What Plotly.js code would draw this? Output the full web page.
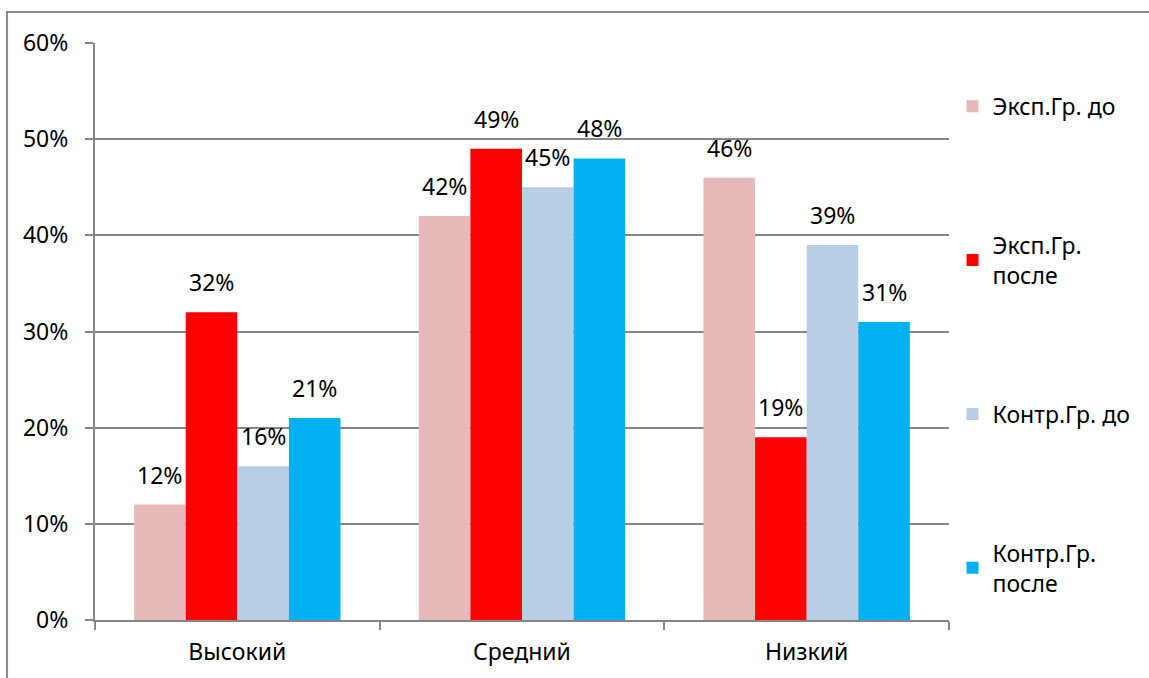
<!DOCTYPE html>
<html>
<head>
<meta charset="utf-8">
<script src="https://cdn.plot.ly/plotly-3.0.1.min.js"></script>
<style>html,body{margin:0;padding:0;background:#fff;}#chart{width:1149px;height:678px;}</style>
</head>
<body>
<div id="chart"></div>
<script>
const categories = ["Высокий", "Средний", "Низкий"];
const seriesNames = ["Эксп.Гр. до", "Эксп.Гр.<br>после", "Контр.Гр. до", "Контр.Гр.<br>после"];
const expBefore = [0.12, 0.42, 0.46];
const expAfter = [0.32, 0.49, 0.19];
const ctrlBefore = [0.16, 0.45, 0.39];
const ctrlAfter = [0.21, 0.48, 0.31];
const colors = ["#E6B9B8", "#FF0000", "#B9CDE5", "#00B0F0"];

const FONT = "Noto Sans, Open Sans, DejaVu Sans, sans-serif";
const FS = 23;
const values = [expBefore, expAfter, ctrlBefore, ctrlAfter];

const W = 1149, H = 678;
const margin = {l: 95, r: 200, t: 43, b: 58};
const bargap = 0.275;
const plotW = W - margin.l - margin.r;
const catW = plotW / categories.length;
const barW = catW * (1 - bargap) / values.length;

const traces = values.map((v, i) => ({
  type: "bar",
  name: seriesNames[i],
  x: categories,
  y: v,
  marker: {color: colors[i]},
  legendgroup: "g" + i,
  hoverinfo: "skip"
}));

const annotations = [];
values.forEach((v, i) => {
  v.forEach((d, j) => {
    annotations.push({
      x: categories[j],
      y: d,
      xref: "x", yref: "y",
      text: Math.round(d * 100) + "%",
      showarrow: false,
      xanchor: "center",
      yanchor: "bottom",
      xshift: (i - (values.length - 1) / 2) * barW,
      yshift: 12,
      font: {family: FONT, size: FS, color: "#000"}
    });
  });
});

const layout = {
  width: W,
  height: H,
  margin: margin,
  paper_bgcolor: "#fff",
  plot_bgcolor: "#fff",
  barmode: "group",
  bargap: bargap,
  bargroupgap: 0,
  font: {family: FONT, size: FS, color: "#000"},
  xaxis: {
    type: "category",
    showline: true,
    linecolor: "#868686",
    linewidth: 2,
    ticks: "outside",
    tickson: "boundaries",
    ticklen: 8,
    tickwidth: 2,
    tickcolor: "#868686",
    ticklabelstandoff: 10,
    tickfont: {family: FONT, size: FS, color: "#000"},
    showgrid: false,
    fixedrange: true
  },
  yaxis: {
    range: [0, 0.6],
    dtick: 0.1,
    tickformat: ".0%",
    showline: true,
    linecolor: "#868686",
    linewidth: 2,
    ticks: "outside",
    ticklen: 8,
    tickwidth: 2,
    tickcolor: "#868686",
    ticklabelstandoff: 12,
    showgrid: true,
    gridcolor: "#868686",
    gridwidth: 2,
    zeroline: false,
    tickfont: {family: FONT, size: FS, color: "#000"},
    fixedrange: true
  },
  legend: {
    xref: "container",
    yref: "container",
    x: 0.829,
    xanchor: "left",
    y: 0.875,
    yanchor: "top",
    maxheight: 640,
    tracegroupgap: 106,
    font: {family: FONT, size: FS, color: "#000"},
    bgcolor: "rgba(0,0,0,0)",
    itemclick: false,
    itemdoubleclick: false
  },
  annotations: annotations,
  shapes: [{
    type: "rect",
    xref: "paper", yref: "paper",
    x0: -0.103, x1: 1.4,
    y0: -0.3, y1: 1.0537,
    line: {color: "#8c8c8c", width: 2},
    fillcolor: "rgba(0,0,0,0)",
    layer: "below"
  }],
  showlegend: true
};

Plotly.newPlot("chart", traces, layout, {displayModeBar: false, staticPlot: true});
</script>
</body>
</html>
